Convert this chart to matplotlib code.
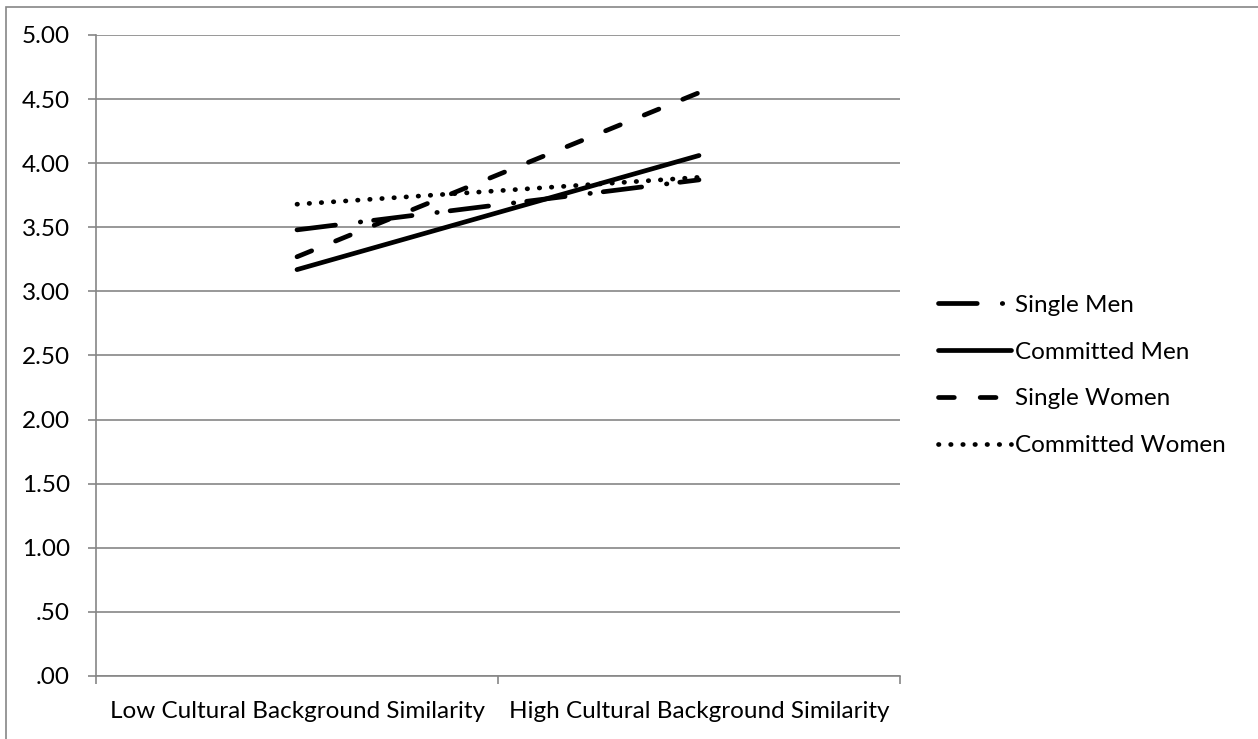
import matplotlib
matplotlib.use('Agg')
import matplotlib.pyplot as plt
from matplotlib.patches import Rectangle

# data
categories = ['Low Cultural Background Similarity', 'High Cultural Background Similarity']
single_men = [3.48, 3.87]
committed_men = [3.17, 4.06]
single_women = [3.27, 4.55]
committed_women = [3.68, 3.89]
y_ticks = [0, 0.5, 1, 1.5, 2, 2.5, 3, 3.5, 4, 4.5, 5]
y_tick_labels = ['.00', '.50', '1.00', '1.50', '2.00', '2.50', '3.00', '3.50', '4.00', '4.50', '5.00']

plt.rcParams['font.family'] = ['Lato', 'DejaVu Sans']
grey = '#868686'
fs = 17.5

fig = plt.figure(figsize=(12.58, 7.39), dpi=100)
ax = fig.add_axes([96 / 1258, 1 - 676 / 739, 804 / 1258, 641 / 739])

# outer chart border (only top/left visible in the crop)
fig.patches.append(Rectangle((6 / 1258, -0.05), 1.1, 1 - 6.5 / 739 + 0.05,
                             transform=fig.transFigure, fill=False,
                             edgecolor=grey, linewidth=1.2))

x = [0, 1]
lw = 3.4
k = 3.0 / lw  # dash lengths were measured for lw=3
common = dict(color='black', linewidth=lw, dash_capstyle='round', solid_capstyle='round')
ax.plot(x, single_men, dashes=(9.3 * k, 6.0 * k, 0.1, 3.1 * k), label='Single Men', **common)
ax.plot(x, committed_men, label='Committed Men', **common)
ax.plot(x, single_women, dashes=(3.8 * k, 6.2 * k), label='Single Women', **common)
ax.plot(x, committed_women, dashes=(0.1, 2.8 * k), label='Committed Women', **common)

ax.set_xlim(-0.5, 1.5)
ax.set_ylim(0, 5)
ax.set_yticks(y_ticks)
ax.set_yticklabels(y_tick_labels)
ax.yaxis.grid(True, color=grey, linewidth=1.2)
ax.set_axisbelow(True)

ax.set_xticks([-0.5, 0.5, 1.5])
ax.set_xticklabels([])
ax.set_xticks(x, minor=True)
ax.set_xticklabels(categories, minor=True)
ax.tick_params(axis='x', which='minor', length=0, pad=18, labelsize=fs)
ax.tick_params(axis='x', which='major', length=5.8, color=grey, width=1.2)
ax.tick_params(axis='y', length=5.8, color=grey, width=1.2, pad=13, labelsize=fs)

for s in ['top', 'right']:
    ax.spines[s].set_visible(False)
for s in ['left', 'bottom']:
    ax.spines[s].set_color(grey)
    ax.spines[s].set_linewidth(1.2)

fig.legend(loc='center left', bbox_to_anchor=(938 / 1258, 1 - 375.5 / 739),
           frameon=False, fontsize=fs, handlelength=3.0, handletextpad=0.17,
           labelspacing=1.06, borderpad=0, borderaxespad=0)

fig.savefig('out.png', dpi=100, facecolor='white')
